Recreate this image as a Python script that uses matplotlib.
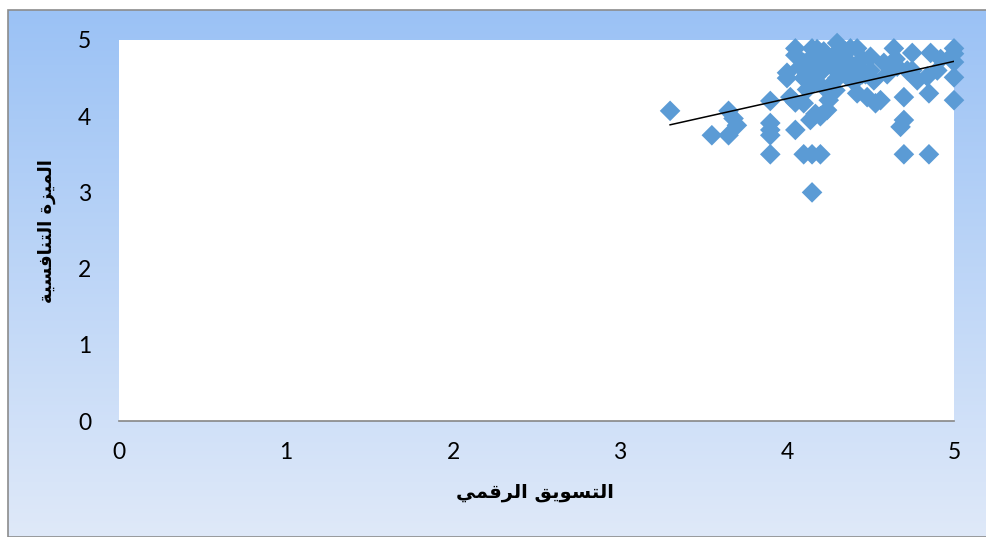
import numpy as np
import matplotlib
matplotlib.use('Agg')
import matplotlib.pyplot as plt
from matplotlib.patches import Rectangle

# التسويق الرقمي (x) vs الميزة التنافسية (y)
digital_marketing = [
    3.30, 3.55, 3.65, 3.65, 3.68, 3.70, 3.90, 3.90, 3.90, 3.90, 3.90,
    4.00, 4.00, 4.02, 4.05, 4.05, 4.05, 4.05, 4.08, 4.10, 4.10, 4.10, 4.10,
    4.12, 4.14, 4.15, 4.15, 4.15, 4.15, 4.15, 4.17, 4.18, 4.20, 4.20, 4.20,
    4.20, 4.22, 4.24, 4.24, 4.25, 4.27, 4.28, 4.29, 4.30, 4.30, 4.30, 4.32,
    4.33, 4.35, 4.36, 4.38, 4.40, 4.40, 4.42, 4.42, 4.42, 4.45, 4.47, 4.48,
    4.50, 4.50, 4.52, 4.53, 4.56, 4.58, 4.60, 4.64, 4.65, 4.66, 4.68, 4.70,
    4.70, 4.70, 4.72, 4.75, 4.75, 4.78, 4.84, 4.85, 4.85, 4.86, 4.90, 4.92,
    5.00, 5.00, 5.00, 5.00, 5.00,
    4.25, 4.35, 4.45, 4.18, 4.12, 4.28, 4.38,
]
competitive_advantage = [
    4.07, 3.75, 3.75, 4.07, 3.97, 3.88, 4.20, 3.91, 3.82, 3.75, 3.50,
    4.50, 4.57, 4.25, 4.89, 4.80, 4.18, 3.82, 4.65, 4.50, 4.70, 4.17, 3.50,
    4.35, 3.95, 4.89, 4.78, 4.60, 3.50, 3.00, 4.03, 4.45, 4.57, 4.70, 4.00,
    3.50, 4.85, 4.34, 4.08, 4.21, 4.65, 4.80, 4.34, 4.96, 4.70, 4.50, 4.85,
    4.60, 4.75, 4.52, 4.89, 4.65, 4.45, 4.89, 4.65, 4.30, 4.75, 4.55, 4.25,
    4.78, 4.60, 4.47, 4.17, 4.21, 4.70, 4.55, 4.89, 4.75, 4.65, 3.86, 4.25,
    3.95, 3.50, 4.60, 4.83, 4.60, 4.47, 4.52, 4.30, 3.50, 4.83, 4.60, 4.75,
    4.89, 4.82, 4.71, 4.51, 4.21,
    4.75, 4.85, 4.55, 4.88, 4.55, 4.45, 4.60,
]

# linear trend line as drawn in the picture
trend_slope = 0.49
trend_intercept = 2.27

axis_ticks = [0, 1, 2, 3, 4, 5]

# Arabic labels written in visual (shaped, right-to-left reversed) order
x_label = '\uFEF2\uFEE4\uFED7\uFEAE\uFEDF\uFE8D \uFED6\uFEF3\uFEEE\uFEB4\uFE98\uFEDF\uFE8D'  # التسويق الرقمي
y_label = '\uFE94\uFEF4\uFEB4\uFED3\uFE8E\uFEE8\uFE98\uFEDF\uFE8D \uFE93\uFEB0\uFEF4\uFEE4\uFEDF\uFE8D'  # الميزة التنافسية

W, H = 987, 537
fig = plt.figure(figsize=(W / 100, H / 100), dpi=100)
fig.patch.set_facecolor('white')

# background panel with vertical blue gradient
bg = fig.add_axes([0, 0, 1, 1], zorder=0)
bg.set_xlim(0, W)
bg.set_ylim(H, 0)
bg.axis('off')
top = np.array([155, 194, 245]) / 255
bottom = np.array([223, 233, 249]) / 255
t = np.linspace(0, 1, 256)[:, None, None]
grad = top * (1 - t) + bottom * t
grad = np.repeat(grad, 2, axis=1)
bg.imshow(grad, extent=(8, W, H, 10), aspect='auto', interpolation='bilinear')
bg.add_patch(Rectangle((8, 10), W - 8, H - 10, fill=False, edgecolor='#8c8c8c', linewidth=1.2))

ax = fig.add_axes([119 / W, 1 - 421 / H, (954 - 119) / W, (421 - 40) / H], zorder=1)
ax.set_facecolor('white')

ax.scatter(digital_marketing, competitive_advantage, marker='D', s=10.5 ** 2,
           color='#5b9bd5', edgecolors='none', clip_on=False, zorder=3)

x0, x1 = min(digital_marketing), max(digital_marketing)
ax.plot([x0, x1], [trend_intercept + trend_slope * x0, trend_intercept + trend_slope * x1],
        color='black', linewidth=1.1, zorder=4)

ax.set_xlim(0, 5)
ax.set_ylim(0, 5)
ax.set_xticks(axis_ticks)
ax.set_yticks(axis_ticks)
num_font = ['Lato', 'DejaVu Sans']
ax.set_xticklabels([str(v) for v in axis_ticks], family=num_font, fontsize=16.5)
ax.set_yticklabels([str(v) for v in axis_ticks], family=num_font, fontsize=16.5)
ax.tick_params(axis='both', length=0)
ax.tick_params(axis='x', pad=15)
ax.tick_params(axis='y', pad=20)

for side in ['top', 'right', 'left']:
    ax.spines[side].set_visible(False)
ax.spines['bottom'].set_color('#868686')
ax.spines['bottom'].set_linewidth(1.2)

fig.text(535 / W, 1 - 493 / H, x_label, ha='center', va='center',
         fontsize=14, fontweight='bold', family='DejaVu Sans')
fig.text(47 / W, 1 - 231 / H, y_label, ha='center', va='center', rotation=90,
         fontsize=13, fontweight='bold', family='DejaVu Sans')

fig.savefig('out.png', dpi=100)
